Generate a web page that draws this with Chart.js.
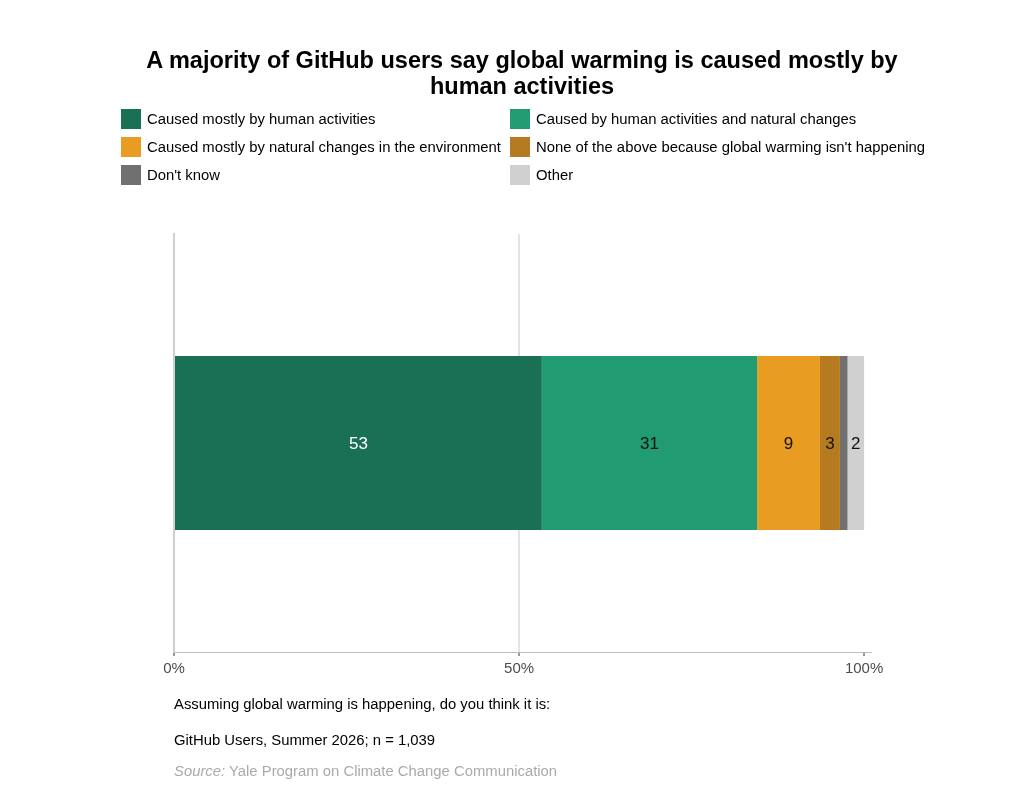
<!DOCTYPE html>
<html>
<head>
<meta charset="utf-8">
<script src="https://cdn.jsdelivr.net/npm/chart.js@4/dist/chart.umd.min.js"></script>
<style>
  html, body { margin: 0; padding: 0; background: #fff; }
  body { width: 1024px; height: 801px; position: relative; overflow: hidden; font-family: "Liberation Sans", Arial, sans-serif; }
  #wrap { position: absolute; left: 0; top: 0; width: 1024px; height: 801px; }
  .title { position: absolute; left: 0; width: 1044px; top: 47px; text-align: center; font-weight: bold; font-size: 23.5px; line-height: 26px; color: #000; }
  .leg { position: absolute; height: 28px; display: flex; align-items: center; font-size: 14.85px; color: #000; white-space: nowrap; }
  .leg .box { width: 20px; height: 20px; margin-right: 6px; }
  .note { position: absolute; left: 174px; font-size: 14.85px; line-height: 20px; color: #000; white-space: nowrap; }
  .src { color: #aaa; }
</style>
</head>
<body>
<div id="wrap"><canvas id="c" width="1024" height="801"></canvas></div>
<div class="title">A majority of GitHub users say global warming is caused mostly by<br>human activities</div>
<div id="legend"></div>
<div class="note" style="top:694px">Assuming global warming is happening, do you think it is:</div>
<div class="note" style="top:730px">GitHub Users, Summer 2026; n = 1,039</div>
<div class="note src" style="top:761px"><i>Source:</i> Yale Program on Climate Change Communication</div>
<script>
const categories = ["GitHub Users"];
const seriesNames = [
  "Caused mostly by human activities",
  "Caused by human activities and natural changes",
  "Caused mostly by natural changes in the environment",
  "None of the above because global warming isn't happening",
  "Don't know",
  "Other"
];
const humanValues = [53.3];
const bothValues = [31.2];
const naturalValues = [9.1];
const noneValues = [2.9];
const dontKnowValues = [1.1];
const otherValues = [2.4];
const tickValues = [0, 50, 100];

const seriesValues = [humanValues, bothValues, naturalValues, noneValues, dontKnowValues, otherValues];
const colors = ["#1a7055", "#219b71", "#e89c22", "#b67b20", "#707070", "#d0d0d0"];
const labelColors = ["#ffffff", "#111111", "#111111", "#111111", "#111111", "#111111"];

// legend (two columns)
const legendEl = document.getElementById('legend');
seriesNames.forEach((name, i) => {
  const col = i % 2, row = Math.floor(i / 2);
  const d = document.createElement('div');
  d.className = 'leg';
  d.style.left = (col === 0 ? 121 : 510) + 'px';
  d.style.top = (105 + row * 28) + 'px';
  d.innerHTML = '<div class="box" style="background:' + colors[i] + '"></div><span></span>';
  d.querySelector('span').textContent = name;
  legendEl.appendChild(d);
});

const labelPlugin = {
  id: 'segLabels',
  afterDatasetsDraw(chart) {
    const ctx = chart.ctx;
    ctx.save();
    ctx.font = '17px "Liberation Sans", Arial, sans-serif';
    ctx.textAlign = 'center';
    ctx.textBaseline = 'middle';
    chart.data.datasets.forEach((ds, di) => {
      const meta = chart.getDatasetMeta(di);
      meta.data.forEach((el, j) => {
        const v = ds.data[j];
        if (v < 2) return;
        const p = el.getProps(['x', 'y', 'base'], true);
        ctx.fillStyle = labelColors[di];
        ctx.fillText(String(Math.round(v)), (p.x + p.base) / 2, p.y + 1);
      });
    });
    ctx.restore();
  }
};

new Chart(document.getElementById('c'), {
  type: 'bar',
  data: {
    labels: categories,
    datasets: seriesNames.map((n, i) => ({
      label: n,
      data: seriesValues[i],
      backgroundColor: colors[i],
      borderWidth: 0,
      categoryPercentage: 1,
      barPercentage: 0.416
    }))
  },
  options: {
    indexAxis: 'y',
    responsive: false,
    animation: false,
    devicePixelRatio: 1,
    layout: { padding: { left: 174, right: 153, top: 234, bottom: 119 } },
    plugins: { legend: { display: false }, tooltip: { enabled: false }, title: { display: false } },
    scales: {
      x: {
        stacked: true,
        min: 0,
        max: 101,
        afterBuildTicks(scale) { scale.ticks = tickValues.map(v => ({ value: v })); },
        afterFit(scale) { scale.height = 30; },
        ticks: {
          callback: (v) => v + '%',
          color: '#4d4d4d',
          font: { size: 15, family: '"Liberation Sans", Arial, sans-serif' },
          padding: 4,
          maxRotation: 0
        },
        grid: {
          color: (c) => (c.tick && c.tick.value === 50) ? '#e3e3e3' : 'rgba(0,0,0,0)',
          lineWidth: 2,
          tickColor: '#333333',
          tickLength: 4,
          tickWidth: 1,
          drawOnChartArea: true
        },
        border: { display: true, color: '#bdbdbd', width: 1 }
      },
      y: {
        stacked: true,
        afterFit(scale) { scale.width = 0; },
        ticks: { display: false },
        grid: { display: false, drawTicks: false },
        border: { display: true, color: '#cfcfcf', width: 2 }
      }
    }
  },
  plugins: [labelPlugin]
});
</script>
</body>
</html>
